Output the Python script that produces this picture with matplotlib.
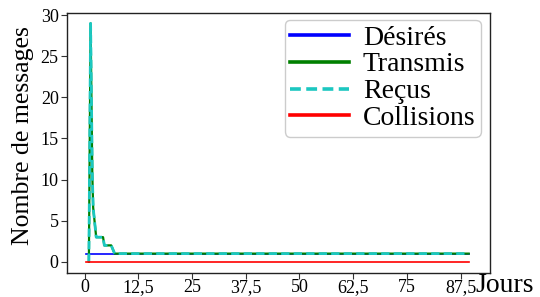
import matplotlib
matplotlib.use("Agg")
import matplotlib.pyplot as plt

plt.rcParams['font.family'] = ['Liberation Serif', 'DejaVu Serif']

# Data
days_desires = [0.3, 89.4]
desires = [1, 1]
days_tx = [1.0, 1.4, 1.8, 2.0, 2.7, 4.3, 4.6, 6.2, 7.0, 89.4]
transmis = [0, 29, 10.6, 6.6, 3, 3, 2, 2, 1, 1]
recus = [0, 29, 10.6, 6.6, 3, 3, 2, 2, 1, 1]
days_coll = [0.3, 89.4]
collisions = [0, 0]
xticks = [0, 12.5, 25, 37.5, 50, 62.5, 75, 87.5]
xticklabels = ['0', '12,5', '25', '37,5', '50', '62,5', '75', '87,5']
yticks = [0, 5, 10, 15, 20, 25, 30]

fig = plt.figure(figsize=(5.4, 2.97), dpi=100)
ax = fig.add_axes([0.124, 0.081, 0.783, 0.875])

ax.plot(days_desires, desires, color='#0000ff', lw=1.2, label='Désirés')
ax.plot(days_tx, transmis, color='#008000', lw=1.6, label='Transmis')
ax.plot(days_tx, recus, color='#1cc7c0', lw=2.0, ls=(0, (3, 1.5)), label='Reçus')
ax.plot(days_coll, collisions, color='#ff0000', lw=1.2, label='Collisions')

ax.set_xlim(-4.1, 94.3)
ax.set_ylim(-1.35, 30.25)
ax.set_xticks(xticks)
ax.set_xticklabels(xticklabels)
ax.set_yticks(yticks)
ax.tick_params(labelsize=13, color='#333333', length=4, width=0.8)
ax.tick_params(axis='x', pad=0.5)
ax.tick_params(axis='y', pad=2)
for s in ax.spines.values():
    s.set_color('#222222')
    s.set_linewidth(1.0)

ax.set_ylabel('Nombre de messages', fontsize=18.5, va='center')
ax.yaxis.set_label_coords(-0.104, 0.527)
ax.text(0.965, -0.073, 'Jours', transform=ax.transAxes, fontsize=20,
        ha='left', va='baseline')

leg = ax.legend(loc='upper right', bbox_to_anchor=(0.979, 0.975), fontsize=20,
                handlelength=2.1, handletextpad=0.5, labelspacing=0.05,
                borderpad=0.2, borderaxespad=0, fancybox=True, framealpha=1,
                edgecolor='#cccccc')
for line in leg.get_lines():
    line.set_linewidth(2.6)

fig.savefig('out.png', dpi=100)
